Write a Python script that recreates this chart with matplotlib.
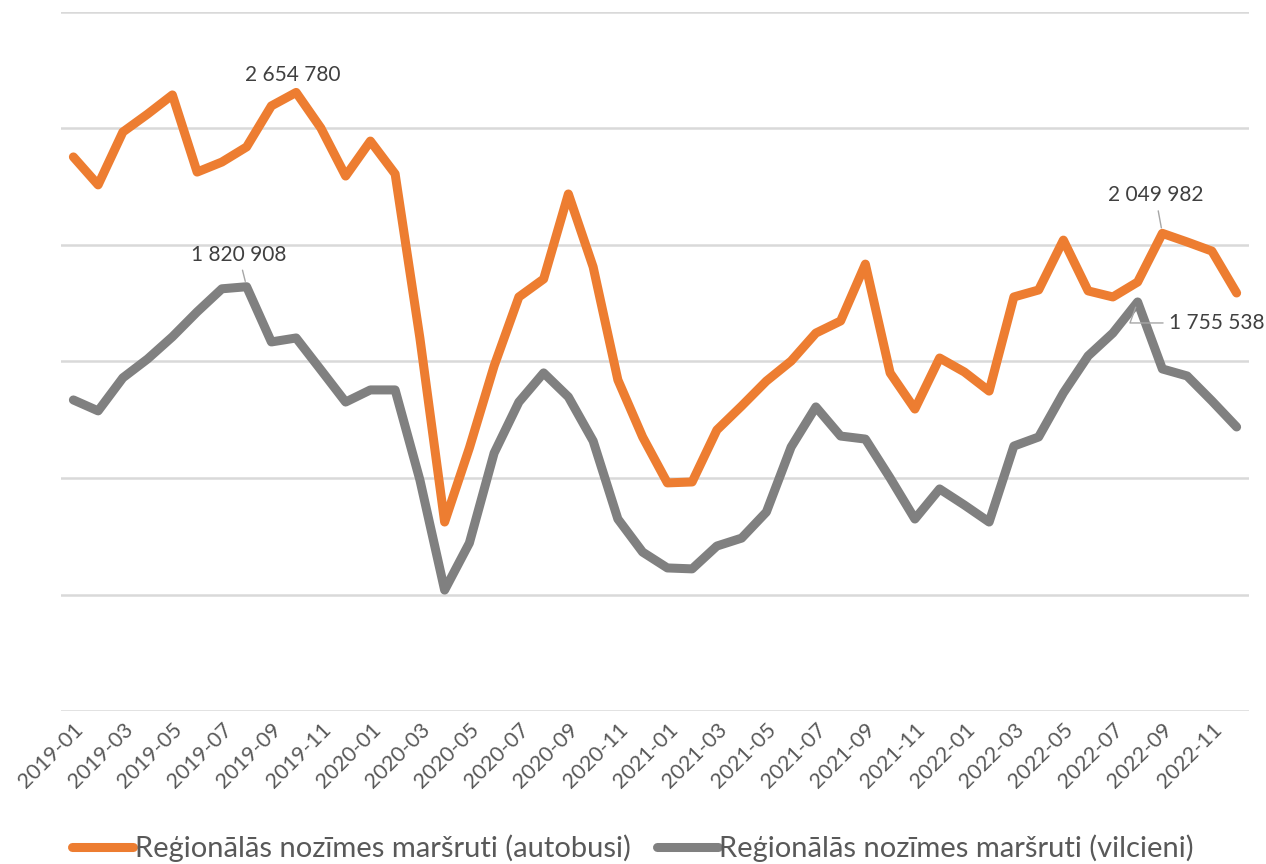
import matplotlib.pyplot as plt
import numpy as np

plt.rcParams['font.family'] = ['Lato', 'DejaVu Sans']

# months 2019-01 .. 2022-12
months = [f"{y}-{m:02d}" for y in range(2019, 2023) for m in range(1, 13)]

# passengers
autobusi = [2378000, 2258000, 2485000, 2562000, 2644000, 2313000, 2356000, 2421000,
            2597000, 2654780, 2502000, 2296000, 2446000, 2305000, 1601000, 811000,
            1129000, 1481000, 1777000, 1854000, 2219000, 1906000, 1421000, 1176000,
            979000, 983000, 1206000, 1309000, 1416000, 1502000, 1622000, 1674000,
            1918000, 1451000, 1296000, 1515000, 1455000, 1373000, 1777000, 1807000,
            2021000, 1803000, 1777000, 1841000, 2049982, 2013000, 1974000, 1794000]
vilcieni = [1335000, 1288000, 1430000, 1511000, 1606000, 1713000, 1812000, 1820908,
            1584000, 1601000, 1464000, 1326000, 1378000, 1378000, 992000, 519000,
            721000, 1107000, 1326000, 1451000, 1348000, 1159000, 824000, 682000,
            614000, 610000, 708000, 742000, 854000, 1133000, 1305000, 1180000,
            1167000, 1000000, 824000, 953000, 884000, 811000, 1137000, 1176000,
            1365000, 1524000, 1622000, 1755538, 1468000, 1438000, 1331000, 1219000]

orange = '#ED7D31'
grey = '#808080'

fig = plt.figure(figsize=(12.66, 8.64), dpi=100)
ax = fig.add_axes([61/1266, 1-711/864, (1249-61)/1266, (711-12)/864])

x = np.arange(len(months))
ax.plot(x, autobusi, color=orange, lw=6.5, solid_joinstyle='round', solid_capstyle='round',
        label='Reģionālās nozīmes maršruti (autobusi)')
ax.plot(x, vilcieni, color=grey, lw=6.5, solid_joinstyle='round', solid_capstyle='round',
        label='Reģionālās nozīmes maršruti (vilcieni)')

ax.set_xlim(-0.5, len(months) - 0.5)
ax.set_ylim(0, 3000000)
ax.set_yticks(np.arange(0, 3000001, 500000))
ax.yaxis.grid(True, color='#d9d9d9', lw=1.8)
ax.set_axisbelow(True)
ax.tick_params(axis='y', left=False, labelleft=False)
ax.tick_params(axis='x', length=0, pad=6, labelsize=15.5, labelcolor='#595959')
ax.set_xticks(x[::2])
ax.set_xticklabels(months[::2], rotation=45, ha='right', rotation_mode='anchor')
for s in ax.spines.values():
    s.set_visible(False)

def fmt(v):
    return f"{v:,}".replace(',', ' ')

lab = dict(fontsize=15, color='#404040', textcoords='offset pixels')
lead = dict(arrowstyle='-', color='#a6a6a6', lw=1, shrinkA=2, shrinkB=4)
ax.annotate(fmt(autobusi[9]), (9, autobusi[9]), xytext=(-3, 17), ha='center', va='center', **lab)
ax.annotate(fmt(vilcieni[7]), (7, vilcieni[7]), xytext=(-8, 32), ha='center', va='center',
            arrowprops=lead, **lab)
ax.annotate(fmt(autobusi[44]), (44, autobusi[44]), xytext=(-7, 38), ha='center', va='center',
            arrowprops=lead, **lab)
ax.annotate(fmt(vilcieni[43]), (43, vilcieni[43]), xytext=(31, -21), ha='left', va='center',
            arrowprops=dict(lead, connectionstyle='angle,angleA=0,angleB=70'), **lab)

leg = fig.legend(loc='center', bbox_to_anchor=(0.5, 1-848/864), ncol=2, frameon=False,
                 fontsize=21, handlelength=2.1, handletextpad=0.05, columnspacing=0.9)
for t in leg.get_texts():
    t.set_color('#595959')

fig.savefig('out.png', dpi=100)
